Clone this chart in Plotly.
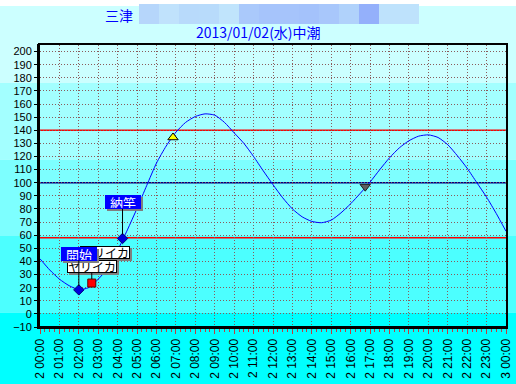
import plotly.graph_objects as go

DAY = "2013-01-02"
NEXT_DAY = "2013-01-03"

# ---- data -------------------------------------------------------------
tide_clock = ["00:00", "00:30", "01:00", "01:30", "02:00", "02:30", "03:00", "03:30",
              "04:00", "04:30", "05:00", "05:30", "06:00", "06:30", "07:00", "07:30",
              "08:00", "08:30", "09:00", "09:30", "10:00", "10:30", "11:00", "11:30",
              "12:00", "12:30", "13:00", "13:30", "14:00", "14:30", "15:00", "15:30",
              "16:00", "16:30", "17:00", "17:30", "18:00", "18:30", "19:00", "19:30",
              "20:00", "20:30", "21:00", "21:30", "22:00", "22:30", "23:00", "23:30",
              "24:00"]
tide_level = [42, 33.5, 26.5, 21.5, 18.5, 20, 26.5, 35,
              48.5, 64, 80.5, 98, 115, 128, 138.5, 146,
              150.5, 152.5, 151.5, 146, 138, 130, 120, 109,
              98.5, 88.5, 80, 74, 70.5, 69.5, 71.5, 77,
              84, 92, 100.5, 110, 119, 126.5, 132, 135.5,
              136.5, 134.5, 129, 120.5, 111, 100, 89, 76.5,
              63]

fishing_clock = ["02:00", "04:15"]
fishing_level = [18.3, 57.5]
fishing_label = ["開始", "納竿"]

catch_clock = ["02:40"]
catch_level = [23.5]
catch_label = ["ヤリイカ"]

sunrise_clock = ["06:51"]
sunrise_level = [134.5]
sunset_clock = ["16:45"]
sunset_level = [97]

ref_levels = [140, 100, 58]
ref_colors = ["#ff0000", "#000080", "#ff0000"]

title_place = "三津"
title_date = "2013/01/02(水)中潮"

mosaic_colors = ["#b6d6fb", "#c0e2fc", "#b8dafb", "#b8dbfb", "#c0e4fc", "#aac9fb", "#a6c4fb",
                 "#a6c4fb", "#a4c2fb", "#a8c7fb", "#b0d2fb", "#94b0fb", "#bee2fc", "#bee2fc"]
band_colors = ["#ccffff", "#a3ffff", "#7dffff", "#4cffff", "#00ffff"]


def ts(c):
    if c == "24:00":
        return NEXT_DAY + " 00:00"
    return DAY + " " + c


# ---- geometry helpers (pixel -> paper) --------------------------------
L, R, T, B = 40, 10, 45, 57
W, H = 516, 384
PW, PH = W - L - R, H - T - B


def px(xp):
    return (xp - L) / PW


def py(yp):
    return (H - B - yp) / PH


fig = go.Figure()

fig.add_trace(go.Scatter(
    x=[ts(c) for c in tide_clock], y=tide_level, mode="lines",
    line=dict(color="#0000ff", width=1, shape="spline", smoothing=0.6),
    hoverinfo="skip", showlegend=False))

fig.add_trace(go.Scatter(
    x=[ts(c) for c in catch_clock], y=catch_level, mode="markers",
    marker=dict(symbol="square", size=8, color="#ff0000", line=dict(color="#600000", width=1)),
    showlegend=False))

fig.add_trace(go.Scatter(
    x=[ts(c) for c in fishing_clock], y=fishing_level, mode="markers",
    marker=dict(symbol="diamond", size=8, color="#0000dd", line=dict(color="#000080", width=1)),
    showlegend=False))

fig.add_trace(go.Scatter(
    x=[ts(c) for c in sunrise_clock], y=sunrise_level, mode="markers",
    marker=dict(symbol="triangle-up", size=9, color="#ffff00", line=dict(color="#000000", width=1)),
    showlegend=False))

fig.add_trace(go.Scatter(
    x=[ts(c) for c in sunset_clock], y=sunset_level, mode="markers",
    marker=dict(symbol="triangle-down", size=9, color="#606060", line=dict(color="#202020", width=1)),
    showlegend=False))

shapes = []
# background bands over the whole picture
band_edges = [6, 83, 159.5, 236, 312.5, 390]
for i, col in enumerate(band_colors):
    shapes.append(dict(type="rect", xref="paper", yref="paper", layer="below",
                       x0=px(-5), x1=px(W + 5), y0=py(band_edges[i + 1]), y1=py(band_edges[i]),
                       fillcolor=col, line=dict(width=0)))
# mosaic blocks in the header
for i, col in enumerate(mosaic_colors):
    shapes.append(dict(type="rect", xref="paper", yref="paper", layer="above",
                       x0=px(139 + 20 * i), x1=px(159 + 20 * i), y0=py(24), y1=py(4),
                       fillcolor=col, line=dict(width=0)))
# reference levels
for lv, col in zip(ref_levels, ref_colors):
    shapes.append(dict(type="line", xref="paper", yref="y", layer="below",
                       x0=0, x1=1, y0=lv, y1=lv, line=dict(color=col, width=1.5)))
# thicker left / bottom axis edges
shapes.append(dict(type="line", xref="paper", yref="paper", layer="above",
                   x0=px(38.5), x1=px(38.5), y0=py(328.5), y1=py(44), line=dict(color="black", width=3)))
shapes.append(dict(type="line", xref="paper", yref="paper", layer="above",
                   x0=px(37), x1=px(507), y0=py(327.5), y1=py(327.5), line=dict(color="black", width=3)))

annotations = []
annotations.append(dict(xref="paper", yref="paper", x=px(119), y=py(15.5), text=title_place,
                        xanchor="center", yanchor="middle", showarrow=False,
                        font=dict(family="Noto Sans CJK JP", size=14, color="#0000ff")))
annotations.append(dict(xref="paper", yref="paper", x=px(258), y=py(32), text=title_date,
                        xanchor="center", yanchor="middle", showarrow=False,
                        font=dict(family="Noto Sans CJK JP", size=14, color="#0000ff")))


def boxed(x, y, text, dx, dy, bg, fg, border, width, height, arrow, fsize):
    # shadow
    annotations.append(dict(x=x, y=y, xref="x", yref="y", text=" ", showarrow=False,
                            xshift=dx + 2, yshift=-dy - 2, bgcolor="#808080",
                            width=width, height=height, borderpad=0, borderwidth=1,
                            bordercolor="#808080", font=dict(size=fsize)))
    if arrow:
        annotations.append(dict(x=x, y=y, xref="x", yref="y", text=text, showarrow=True,
                                arrowhead=0, arrowwidth=1, arrowcolor="black", ax=dx, ay=dy,
                                standoff=4, bgcolor=bg, bordercolor=border, borderwidth=1,
                                borderpad=0, width=width, height=height,
                                font=dict(family="Noto Sans CJK JP", size=fsize, color=fg)))
    else:
        annotations.append(dict(x=x, y=y, xref="x", yref="y", text=text, showarrow=False,
                                xshift=dx, yshift=-dy, bgcolor=bg, bordercolor=border,
                                borderwidth=1, borderpad=0, width=width, height=height,
                                font=dict(family="Noto Sans CJK JP", size=fsize, color=fg)))


cx, cy = ts(catch_clock[0]), catch_level[0]
boxed(cx, cy, catch_label[0], 13, -30.5, "#ffffff", "#000000", "#000000", 48, 11, False, 12)
boxed(cx, cy, catch_label[0], 0, -16.5, "#ffffff", "#000000", "#000000", 48, 11, True, 12)
for c, lv, lab in zip(fishing_clock, fishing_level, fishing_label):
    boxed(ts(c), lv, lab, 0, -36, "#0000ff", "#ffffff", "#0000ff", 34, 12, True, 13)

grid_col = "#8a5a5a"
fig.update_layout(
    width=W, height=H, autosize=False,
    margin=dict(l=L, r=R, t=T, b=B, pad=0, autoexpand=False),
    paper_bgcolor="white", plot_bgcolor="rgba(0,0,0,0)",
    shapes=shapes, annotations=annotations, showlegend=False,
    xaxis=dict(type="date", range=[ts("00:00"), ts("24:00")], tick0=ts("00:00"),
               dtick=3600000, tickformat="%-d %H:%M", tickangle=-90, automargin=False,
               ticks="outside", ticklen=5, tickcolor="#c04040", tickwidth=1,
               minor=dict(dtick=900000, ticks="outside", ticklen=3, tickcolor="#c04040", showgrid=False),
               showgrid=True, gridcolor=grid_col, griddash="1px,2px", gridwidth=1,
               showline=True, linecolor="black", linewidth=2, mirror=True,
               tickfont=dict(family="Liberation Sans", size=12, color="black"), fixedrange=True),
    yaxis=dict(range=[-10, 205], tick0=0, dtick=10, ticks="outside", ticklen=4, automargin=False,
               tickcolor="black", showgrid=True, gridcolor=grid_col, griddash="1px,2px",
               gridwidth=1, zeroline=False, showline=True, linecolor="black", linewidth=2,
               mirror=True, tickfont=dict(family="Liberation Sans", size=11, color="black"),
               fixedrange=True),
)

fig.write_html("out.html", config={"displayModeBar": False},
               post_script="document.body.style.margin='0';document.body.style.overflow='hidden';")
